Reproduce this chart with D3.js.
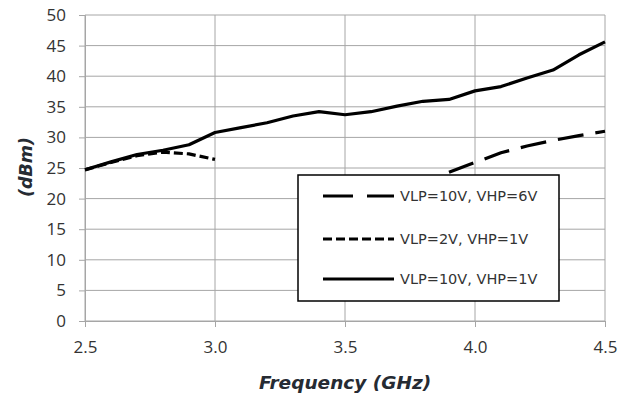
<!DOCTYPE html>
<html>
<head>
<meta charset="utf-8">
<script src="https://cdn.jsdelivr.net/npm/d3@7"></script>
<style>
  body { margin: 0; background: #fff; }
  svg { display: block; }
</style>
</head>
<body>
<svg id="chart" width="634" height="398"></svg>
<script>
// frequency points (GHz)
var freqMain = [2.5, 2.6, 2.7, 2.8, 2.9, 3.0, 3.1, 3.2, 3.3, 3.4, 3.5, 3.6, 3.7, 3.8, 3.9, 4.0, 4.1, 4.2, 4.3, 4.4, 4.5];
var freqLow = [2.5, 2.6, 2.7, 2.8, 2.9, 3.0];
var freqHigh = [3.9, 4.0, 4.1, 4.2, 4.3, 4.4, 4.5];

// output power (dBm)
var vlp10vhp1 = [24.7, 26.0, 27.2, 27.9, 28.8, 30.8, 31.6, 32.4, 33.5, 34.2, 33.7, 34.2, 35.1, 35.9, 36.2, 37.6, 38.3, 39.7, 41.0, 43.5, 45.6];
var vlp2vhp1 = [24.7, 25.9, 27.0, 27.6, 27.3, 26.4];
var vlp10vhp6 = [24.3, 25.9, 27.5, 28.6, 29.5, 30.3, 31.0];

var xTicks = [2.5, 3.0, 3.5, 4.0, 4.5];
var yTicks = [0, 5, 10, 15, 20, 25, 30, 35, 40, 45, 50];

var seriesNames = ["VLP=10V, VHP=6V", "VLP=2V, VHP=1V", "VLP=10V, VHP=1V"];
var seriesDash = ["26,12", "9,4", null];

var svg = d3.select("#chart");
var margin = { left: 85, right: 29, top: 15, bottom: 77 };
var width = 634 - margin.left - margin.right;
var height = 398 - margin.top - margin.bottom;

var g = svg.append("g").attr("transform", "translate(" + margin.left + "," + margin.top + ")");

var x = d3.scaleLinear().domain([2.5, 4.5]).range([0, width]);
var y = d3.scaleLinear().domain([0, 50]).range([height, 0]);

var gridColor = "#a6a6a6";
var textColor = "#333";

// gridlines
g.append("g").selectAll("line.h").data(yTicks).enter().append("line")
    .attr("x1", 0).attr("x2", width)
    .attr("y1", function (d) { return y(d); })
    .attr("y2", function (d) { return y(d); })
    .attr("stroke", gridColor).attr("stroke-width", 1);

g.append("g").selectAll("line.v").data(xTicks).enter().append("line")
    .attr("x1", function (d) { return x(d); })
    .attr("x2", function (d) { return x(d); })
    .attr("y1", 0).attr("y2", height)
    .attr("stroke", gridColor).attr("stroke-width", 1);

// axes
var yAxis = d3.axisLeft(y).tickValues(yTicks).tickSize(6).tickPadding(13);
var xAxis = d3.axisBottom(x).tickValues(xTicks).tickSize(6).tickPadding(14)
    .tickFormat(d3.format(".1f"));

function styleAxis(sel) {
    sel.select(".domain").attr("stroke", gridColor);
    sel.selectAll(".tick line").attr("stroke", gridColor);
    sel.selectAll(".tick text")
        .attr("fill", textColor)
        .style("font-family", "'Open Sans', sans-serif")
        .style("font-size", "17px");
}

g.append("g").call(yAxis).call(styleAxis);
g.append("g").attr("transform", "translate(0," + height + ")").call(xAxis).call(styleAxis);

// lines
var line = d3.line()
    .x(function (d) { return x(d[0]); })
    .y(function (d) { return y(d[1]); });

function pairs(xs, ys) {
    return xs.map(function (v, i) { return [v, ys[i]]; });
}

var series = [
    { data: pairs(freqHigh, vlp10vhp6), dash: seriesDash[0] },
    { data: pairs(freqLow, vlp2vhp1), dash: seriesDash[1] },
    { data: pairs(freqMain, vlp10vhp1), dash: seriesDash[2] }
];

g.selectAll("path.series").data(series).enter().append("path")
    .attr("class", "series")
    .attr("d", function (d) { return line(d.data); })
    .attr("fill", "none")
    .attr("stroke", "#000")
    .attr("stroke-width", 3.2)
    .attr("stroke-linejoin", "round")
    .attr("stroke-dasharray", function (d) { return d.dash; });

// legend
var legend = svg.append("g").attr("transform", "translate(298,175)");
legend.append("rect")
    .attr("width", 261).attr("height", 126)
    .attr("fill", "#fff").attr("stroke", "#000").attr("stroke-width", 1.5);

var rowY = [21, 64, 104];
var items = legend.selectAll("g.item").data(seriesNames).enter().append("g")
    .attr("transform", function (d, i) { return "translate(0," + rowY[i] + ")"; });

items.append("line")
    .attr("x1", 25).attr("x2", 96)
    .attr("stroke", "#000").attr("stroke-width", 3.2)
    .attr("stroke-dasharray", function (d, i) { return i === 0 ? "30,14" : seriesDash[i]; });

items.append("text")
    .attr("x", 102).attr("dy", "0.36em")
    .attr("fill", textColor)
    .style("font-family", "'DejaVu Sans', sans-serif")
    .style("font-size", "14.5px")
    .text(function (d) { return d; });

// axis titles
svg.append("text")
    .attr("x", margin.left + width / 2).attr("y", 389)
    .attr("text-anchor", "middle")
    .attr("fill", "#262b33")
    .style("font-family", "'DejaVu Sans', sans-serif")
    .style("font-weight", "bold").style("font-style", "italic")
    .style("font-size", "18.5px")
    .text("Frequency (GHz)");

svg.append("text")
    .attr("transform", "translate(32,167) rotate(-90)")
    .attr("text-anchor", "middle")
    .attr("fill", "#262b33")
    .style("font-family", "'DejaVu Sans', sans-serif")
    .style("font-weight", "bold").style("font-style", "italic")
    .style("font-size", "17.5px")
    .text("(dBm)");
</script>
</body>
</html>
